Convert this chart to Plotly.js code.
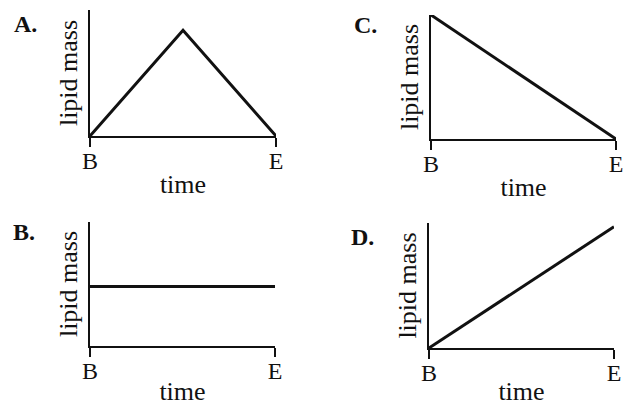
<!DOCTYPE html>
<html>
<head>
<meta charset="utf-8">
<script src="https://cdn.plot.ly/plotly-3.0.1.min.js"></script>
<style>
  html, body { margin: 0; padding: 0; background: #fff; }
  #chart { width: 636px; height: 406px; }
</style>
</head>
<body>
<div id="chart"></div>
<script>
// end points of the time axis
var timeTicks = [0, 1];
var timeLabels = ["B", "E"];

// lipid mass vs time, one curve per panel
var xA = [0, 0.5, 1];
var yA = [0, 0.84, 0];
var xB = [0, 1];
var yB = [0.48, 0.48];
var xC = [0, 1];
var yC = [1, 0];
var xD = [0, 1];
var yD = [0, 0.97];

var panelNames = ["A.", "B.", "C.", "D."];

var serif = "'Liberation Serif', 'Times New Roman', serif";
var ink = "#111";
var linewidth = 3;

function curve(x, y, ax) {
	return {
		mode: "lines",
		x: x,
		y: y,
		xaxis: "x" + ax,
		yaxis: "y" + ax,
		hoverinfo: "skip",
		line: { color: ink, width: linewidth }
	};
}

function timeAxis(domain, anchor) {
	return {
		domain: domain,
		anchor: anchor,
		range: [0, 1],
		tickmode: "array",
		tickvals: timeTicks,
		ticktext: timeLabels,
		ticks: "outside",
		ticklen: 9,
		tickwidth: 2,
		tickcolor: ink,
		ticklabelstandoff: -7,
		showline: true,
		linewidth: 2,
		linecolor: ink,
		showgrid: false,
		zeroline: false,
		tickfont: { family: serif, size: 24, color: ink },
		title: { text: "time", font: { family: serif, size: 26, color: ink }, standoff: 2 },
		fixedrange: true
	};
}

function massAxis(domain, anchor) {
	return {
		domain: domain,
		anchor: anchor,
		range: [0, 1],
		showline: true,
		linewidth: 2,
		linecolor: ink,
		showticklabels: false,
		ticks: "",
		showgrid: false,
		zeroline: false,
		title: { text: "lipid mass", font: { family: serif, size: 26, color: ink }, standoff: 3 },
		fixedrange: true
	};
}

var data = [
	curve(xA, yA, ""),
	curve(xC, yC, "2"),
	curve(xB, yB, "3"),
	curve(xD, yD, "4")
];

var labelPos = [[25, 24], [24, 232], [365, 25], [362, 237]];
var annotations = [];
for (var i = 0; i < panelNames.length; i++) {
	annotations.push({
		text: "<b>" + panelNames[i] + "</b>",
		xref: "paper",
		yref: "paper",
		x: labelPos[i][0] / 636,
		y: 1 - labelPos[i][1] / 406,
		xanchor: "center",
		yanchor: "middle",
		showarrow: false,
		font: { family: serif, size: 24, color: ink }
	});
}

var layout = {
	width: 636,
	height: 406,
	paper_bgcolor: "#fff",
	plot_bgcolor: "#fff",
	showlegend: false,
	margin: { l: 0, r: 0, t: 0, b: 0, autoexpand: false },
	xaxis: timeAxis([0.1415, 0.4340], "y"),
	yaxis: massAxis([0.6650, 0.9754], "x"),
	xaxis2: timeAxis([0.6777, 0.9686], "y2"),
	yaxis2: massAxis([0.6576, 0.9631], "x2"),
	xaxis3: timeAxis([0.1415, 0.4324], "y3"),
	yaxis3: massAxis([0.1478, 0.4532], "x3"),
	xaxis4: timeAxis([0.6745, 0.9654], "y4"),
	yaxis4: massAxis([0.1429, 0.4507], "x4"),
	annotations: annotations
};

Plotly.newPlot("chart", data, layout, { displayModeBar: false, staticPlot: true });
</script>
</body>
</html>
